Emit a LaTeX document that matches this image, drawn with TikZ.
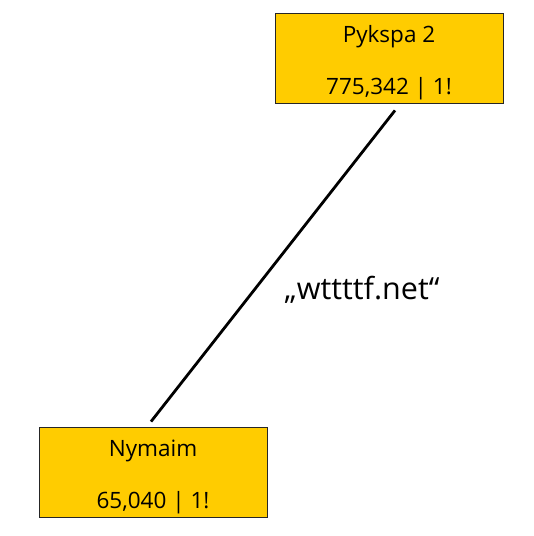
\documentclass[tikz,border=0pt]{standalone}
\usepackage{fontspec}
\setmainfont{Open Sans}
\usetikzlibrary{positioning, calc}
\definecolor{boxyellow}{HTML}{FFCC00}
\newcommand{\topstrut}{\rule{0pt}{27pt}}
\tikzset{
    fambox/.style={draw=black!85, line width=0.8pt, fill=boxyellow, minimum width=228pt, minimum height=90pt, align=center, inner sep=0pt, font=\fontsize{22.5}{52}\selectfont},
    link/.style={line width=2.8pt}
}

\begin{document}
\begin{tikzpicture}[x=1pt, y=-1pt]
            \useasboundingbox (0,0) rectangle (534,536);
            \node[fambox] (pyk) at (389,58) {\topstrut Pykspa 2\\775,342 | 1!};
            \node[fambox] (nym) at (153,472) {\topstrut Nymaim\\65,040 | 1!};
            \draw[link] ($(pyk.south)+(6,7)$)--($(nym.north)+(-2,-5)$);
            \node[font=\fontsize{30.5}{36}\selectfont] (dom) at (362,290) {„wttttf.net“};
        \end{tikzpicture}
\end{document}
